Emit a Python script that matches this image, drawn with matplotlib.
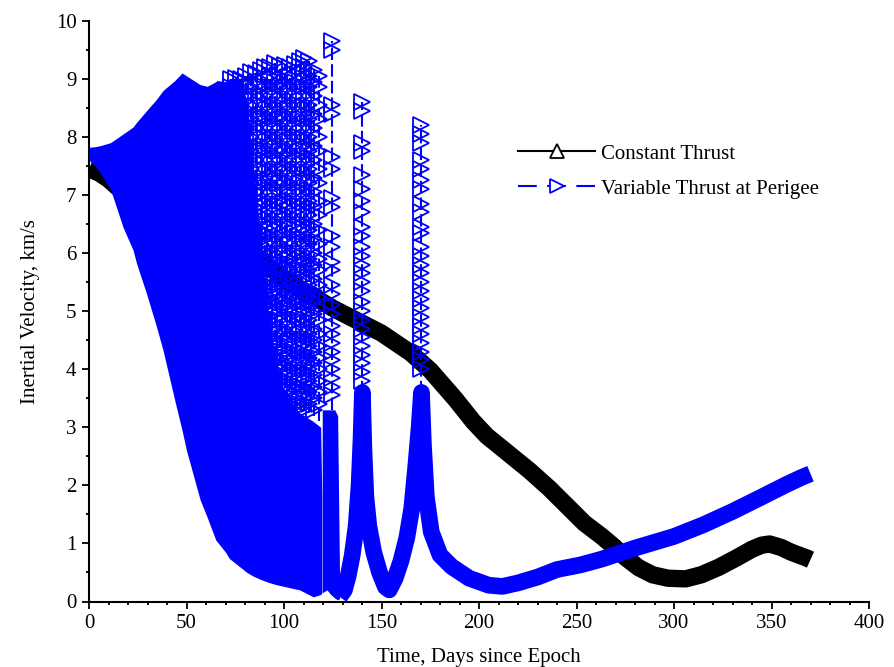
import matplotlib
matplotlib.use("Agg")
import matplotlib.pyplot as plt
from matplotlib.lines import Line2D
from matplotlib.ticker import MultipleLocator

plt.rcParams['font.family'] = ['Liberation Serif', 'DejaVu Serif']

# Constant thrust (black band), centreline
ct_days = [0, 5, 10, 15, 40, 60, 80, 100, 125, 150, 165, 175, 188, 197, 204, 211,
           226, 236, 245, 254, 263, 269, 275, 282, 289, 297, 306, 314, 323, 332,
           340, 345, 349, 355, 360, 368, 370]
ct_vel = [7.45, 7.38, 7.27, 7.12, 6.75, 6.45, 6.1, 5.55, 5.05, 4.62, 4.28, 3.98,
          3.48, 3.1, 2.85, 2.66, 2.25, 1.95, 1.65, 1.35, 1.12, 0.95, 0.76, 0.58,
          0.46, 0.4, 0.39, 0.46, 0.59, 0.75, 0.9, 0.97, 0.99, 0.93, 0.85, 0.75,
          0.72]

# Variable thrust: dense oscillation region (envelopes)
dense_days = [0, 3, 6, 9, 11, 17.5, 22.6, 24.4, 29.5, 34.7, 38, 44, 47.7, 50, 57,
              60.6, 65, 65.7, 70, 72, 78, 81, 84, 88, 92, 96, 100, 108, 115,
              118.8, 119.4]
dense_lo = [7.6, 7.5, 7.37, 7.2, 7.1, 6.44, 6.05, 5.82, 5.3, 4.72, 4.32, 3.46,
            2.95, 2.6, 1.75, 1.45, 1.06, 1.03, 0.85, 0.74, 0.58, 0.5, 0.44,
            0.38, 0.33, 0.29, 0.26, 0.2, 0.08, 0.12, 0.15]
dense_hi = [7.82, 7.83, 7.85, 7.88, 7.9, 8.05, 8.17, 8.25, 8.45, 8.65, 8.8, 8.97,
            9.1, 9.05, 8.9, 8.87, 8.95, 8.97, 8.95, 9.0, 9.0, 8.6, 7.6, 6.3, 5.0,
            4.1, 3.6, 3.25, 3.1, 3.0, 1.78]

# base of the first spike column
base_days = [119.6, 122, 124, 126, 127.5, 128.5]
base_lo = [0.15, 0.2, 0.12, 0.06, 0.03, 0.05]
base_hi = [3.3, 3.3, 3.3, 3.3, 3.2, 0.4]

# Variable thrust after the dense region (blue band), centreline
tail_days = [128.5, 131, 133, 135, 137, 138.5, 139.5, 140.2, 141, 142, 143.5, 146,
             149, 152, 154, 157, 160, 163, 165.5, 167.5, 169.3, 170.5, 171.5, 173,
             175.5, 180, 186, 195, 205, 212, 220, 230, 240, 252, 263, 280, 300,
             315, 330, 345, 358, 365, 370]
tail_vel = [0.08, 0.2, 0.45, 0.8, 1.3, 2.0, 2.8, 3.6, 2.6, 1.8, 1.3, 0.85, 0.5,
            0.25, 0.2, 0.4, 0.7, 1.1, 1.6, 2.3, 3.0, 3.6, 2.7, 1.8, 1.2, 0.8, 0.6,
            0.4, 0.28, 0.26, 0.32, 0.42, 0.55, 0.63, 0.73, 0.92, 1.12, 1.32, 1.55,
            1.8, 2.02, 2.13, 2.2]

# sparse "forest" of perigee/apogee swings between the dense region and spikes
forest_days = [73, 75.5, 78, 80.5, 83, 85.5, 88, 90.5, 93, 95.5, 98, 100.5, 103,
               105.5, 108, 110.5, 113, 115.5, 118]
forest_tops = [9.0, 9.02, 9.0, 9.05, 9.11, 9.1, 9.15, 9.2, 9.2, 9.27, 9.22, 9.24,
               9.2, 9.25, 9.3, 9.35, 9.3, 9.15, 9.05]
forest_bottoms = [8.6, 8.4, 8.0, 7.0, 6.0, 5.2, 4.6, 4.2, 3.9, 3.6, 3.5, 3.4, 3.35,
                  3.3, 3.3, 3.3, 3.25, 3.2, 3.1]
forest_levels_a = [9.3, 9.05, 8.85, 8.55, 8.3, 8.0, 7.75, 7.45, 7.2, 6.9, 6.65,
                   6.4, 6.15, 5.9, 5.7, 5.45, 5.25, 5.05, 4.85, 4.6, 4.4, 4.2,
                   4.0, 3.8, 3.6, 3.4]
forest_levels_b = [9.2, 8.95, 8.7, 8.4, 8.15, 7.85, 7.6, 7.3, 7.05, 6.8, 6.5,
                   6.25, 6.0, 5.8, 5.55, 5.35, 5.15, 4.95, 4.7, 4.5, 4.3, 4.1,
                   3.9, 3.7, 3.5, 3.3]

# the three tall spikes
spike_days = [124.5, 140, 170.5]
spike_tops = [9.65, 8.6, 8.2]
spike_levels = [
    [9.65, 9.5, 8.55, 8.4, 7.65, 7.45, 6.95, 6.8, 6.3, 6.1, 5.85, 5.7, 5.45, 5.3,
     5.1, 4.95, 4.75, 4.6, 4.45, 4.3, 4.15, 4.0, 3.85, 3.7, 3.55],
    [8.6, 8.45, 7.9, 7.75, 7.35, 7.1, 6.9, 6.7, 6.45, 6.3, 6.1, 5.95, 5.8, 5.65,
     5.5, 5.35, 5.15, 5.0, 4.85, 4.7, 4.55, 4.4, 4.25, 4.1, 3.95, 3.8],
    [8.2, 8.05, 7.9, 7.6, 7.45, 7.25, 7.1, 6.85, 6.7, 6.45, 6.35, 6.1, 5.95, 5.8,
     5.65, 5.5, 5.35, 5.2, 5.05, 4.9, 4.75, 4.6, 4.45, 4.3, 4.15, 4.0],
]

BLUE = '#0000ff'

fig = plt.figure(figsize=(8.94, 6.67), dpi=100)
ax = fig.add_axes([89 / 894, 1 - 601.5 / 667, 780 / 894, 580.8 / 667])

# black band first, blue on top of it
ax.plot(ct_days, ct_vel, color='black', lw=12.5, solid_capstyle='butt',
        solid_joinstyle='round', zorder=2)

ax.fill_between(dense_days, dense_lo, dense_hi, color=BLUE, lw=0, zorder=3)
ax.fill_between(base_days, base_lo, base_hi, color=BLUE, lw=0, zorder=3)

for i, (t, top, bot) in enumerate(zip(forest_days, forest_tops, forest_bottoms)):
    levels = forest_levels_a if i % 2 == 0 else forest_levels_b
    lv = [top] + [v for v in levels if bot <= v < top - 0.1]
    ax.plot([t, t], [bot, top], color=BLUE, lw=1.5, ls=(0, (6, 2)), zorder=3)
    ax.plot([t] * len(lv), lv, ls='none', marker='>', ms=11, mfc='none',
            mec=BLUE, mew=1.3, zorder=3)

for t, top, lv in zip(spike_days, spike_tops, spike_levels):
    ax.plot([t, t], [3.3, top], color=BLUE, lw=1.5, ls=(0, (6, 2)), zorder=3)
    ax.plot([t] * len(lv), lv, ls='none', marker='>', ms=11, mfc='none',
            mec=BLUE, mew=1.3, zorder=3)

ax.plot(tail_days, tail_vel, color=BLUE, lw=12, solid_capstyle='butt',
        solid_joinstyle='round', zorder=4)

ax.set_xlim(0, 400)
ax.set_ylim(0, 10)
ax.xaxis.set_major_locator(MultipleLocator(50))
ax.xaxis.set_minor_locator(MultipleLocator(10))
ax.yaxis.set_major_locator(MultipleLocator(1))
ax.yaxis.set_minor_locator(MultipleLocator(0.5))
ax.tick_params(which='major', direction='out', length=5, width=1.3,
               labelsize=15, pad=4)
ax.tick_params(which='minor', direction='out', length=2.5, width=1.3)
for side in ['top', 'right']:
    ax.spines[side].set_visible(False)
for side in ['left', 'bottom']:
    ax.spines[side].set_linewidth(1.5)

ax.set_xlabel('Time, Days since Epoch', fontsize=15, labelpad=11)
ax.set_ylabel('Inertial Velocity, km/s', fontsize=15, labelpad=11)

handles = [
    Line2D([0], [0], color='black', lw=1.5, marker='^', ms=10, mfc='white',
           mec='black', mew=1.3),
    Line2D([0], [0], color=BLUE, lw=1.5, ls=(0, (9, 5)), marker='>', ms=10,
           mfc='white', mec=BLUE, mew=1.3),
]
ax.legend(handles, ['Constant Thrust', 'Variable Thrust at Perigee'],
          loc='upper left', bbox_to_anchor=(518 / 894, 1 - 144 / 667),
          bbox_transform=fig.transFigure, frameon=False, fontsize=15,
          handlelength=3.7, handletextpad=0.3, labelspacing=0.75,
          borderpad=0, borderaxespad=0)

fig.savefig('out.png', dpi=100)
